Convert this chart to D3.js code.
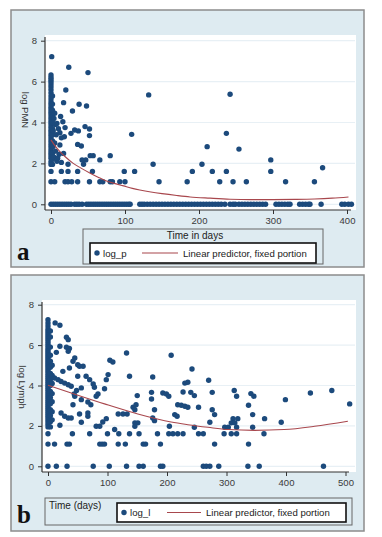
<!DOCTYPE html>
<html><head><meta charset="utf-8">
<script src="https://cdn.jsdelivr.net/npm/d3@7"></script>
<style>body{margin:0;background:#fff;}svg{display:block;}text{font-family:"Liberation Sans",Arial,sans-serif;}</style>
</head><body>
<svg id="c" width="382" height="537"></svg>
<script>
// ---------- Panel a: log PMN vs time (days) ----------
const daysA = [
 1,0,0,0,0,0,0,0,0,0,0,0,0,0,0,0,0,0,0,0,0,0,0,0,0,0,0,0,0,0,0,0,0,0,0,0,0,0,
 2,2,2,2,2,2,2,2,2,2,2,2,
 5,4,6,3,7,5,3,6,4,8,13,16,19,10,12,14,12,11,17,9,14,18,8,
 24,50,20,132,17,38,48,29,46,52,32,37,27,52,109,36,41,53,57,80,42,47,66,44,23,138,
 14,23,36,56,99,113,
 5,19,23,28,36,52,66,70,80,83,93,100,146,184,
 242,237,211,254,204,191,218,237,297,297,367,228,246,264,317,356,
 0,3,6,9,12,15,18,21,24,27,32,35,38,42,48,51,54,57,60,63,66,69,72,75,78,81,84,87,90,93,96,99,102,105,107,
 120,123,126,130,134,138,142,146,150,154,158,162,166,170,174,178,182,186,
 190,194,198,202,206,210,214,218,222,226,230,235,242,246,249,254,258,262,266,270,274,278,282,286,290,
 304,308,312,316,320,323,336,340,344,348,350,365,393,397,402,406
];
const logP = [
 7.22,6.32,6.2,6.1,6.0,5.88,5.75,5.6,5.45,5.3,5.15,5.0,4.88,4.75,4.62,4.5,4.38,4.25,4.12,4.0,3.88,3.75,3.62,3.5,3.38,3.25,3.12,3.0,2.88,2.75,2.62,2.5,2.38,2.25,2.08,1.95,1.61,1.1,
 5.3,4.9,4.6,4.3,4.0,3.7,3.4,3.1,2.8,2.5,2.2,1.95,
 4.45,4.2,3.9,3.6,3.4,3.0,2.85,2.6,2.3,2.1,4.29,4.04,3.75,3.7,3.5,3.25,2.9,2.45,2.49,2.25,2.05,3.3,3.95,
 6.7,6.44,5.59,5.35,4.97,4.89,4.81,4.56,3.8,3.68,3.63,3.59,3.47,3.36,3.42,2.93,2.85,2.38,2.38,2.38,2.17,2.17,2.17,1.96,1.96,1.96,
 1.61,1.61,1.61,1.61,1.61,1.61,
 1.1,1.1,1.1,1.1,1.1,1.1,1.1,1.1,1.1,1.1,1.1,1.1,1.1,1.1,
 5.38,3.47,2.82,2.7,1.96,1.61,1.61,1.61,2.17,1.61,1.79,1.1,1.1,1.1,1.1,1.1,
 0,0,0,0,0,0,0,0,0,0,0,0,0,0,0,0,0,0,0,0,0,0,0,0,0,0,0,0,0,0,0,0,0,0,0,
 0,0,0,0,0,0,0,0,0,0,0,0,0,0,0,0,0,0,
 0,0,0,0,0,0,0,0,0,0,0,0,0,0,0,0,0,0,0,0,0,0,0,0,0,
 0,0,0,0,0,0,0,0,0,0,0,0,0,0,0,0
];
const fitDaysA = [0,5,12,20,30,40,53,65,75,88,98,110,120,135,150,170,188,215,242,270,300,330,356,380,402];
const fitA     = [3.15,2.88,2.58,2.3,2.0,1.78,1.52,1.3,1.14,1.0,0.9,0.78,0.7,0.6,0.52,0.43,0.36,0.3,0.25,0.23,0.23,0.24,0.26,0.3,0.36];

// ---------- Panel b: log Lymph vs time (days) ----------
const daysB = [
 0,0,0,0,0,0,0,0,0,0,0,0,0,0,0,0,0,0,0,0,0,0,0,0,0,0,0,0,0,0,0,0,0,0,0,0,0,0,0,0,0,0,0,0,0,0,0,0,0,0,0,0,0,0,0,
 4,4,4,4,4,4,4,4,4,4,4,4,4,4,4,4,
 7,7,7,7,7,7,7,
 12,20,31,34,20,31,36,34,14,45,42,50,53,59,104,109,132,207,36,25,50,64,70,101,98,137,176,
 11,17,22,28,34,39,56,76,78,95,48,45,44,84,81,230,227,193,199,203,150,174,174,
 67,72,42,56,143,146,148,179,218,224,230,53,67,67,22,28,34,39,118,126,133,213,217,176,179,98,92,56,146,151,81,87,112,146,204,20,
 41,70,100,119,137,153,184,203,210,218,227,
 11,32,36,87,91,95,118,130,160,164,189,
 14,32,76,103,132,153,160,189,193,
 242,235,240,246,270,276,235,253,276,280,272,246,313,317,341,346,337,344,311,319,308,314,297,303,317,344,364,392,399,441,477,507,
 253,261,296,308,317,363,280,337,
 261,266,272,287,336,355,463
];
const logL = [
 7.26,7.1,6.95,6.8,6.7,6.6,6.5,6.4,6.3,6.2,6.1,6.0,5.9,5.8,5.7,5.6,5.5,5.4,5.3,5.2,5.1,5.0,4.9,4.8,4.7,4.6,4.5,4.4,4.3,4.2,4.1,4.0,3.9,3.8,3.7,3.6,3.5,3.4,3.3,3.2,3.1,3.0,2.9,2.8,2.7,2.6,2.5,2.4,2.3,2.2,2.08,1.95,1.61,1.1,0,
 6.7,6.4,5.9,5.5,5.2,4.9,4.6,4.3,4.0,3.7,3.4,3.1,2.8,2.5,2.2,1.95,
 5.0,4.5,4.1,3.6,3.2,2.7,2.3,
 7.1,6.98,6.39,6.27,5.94,5.89,5.83,5.69,5.64,5.36,5.2,5.03,4.95,4.95,5.25,5.16,5.61,5.5,4.87,4.7,4.46,4.46,4.29,4.54,4.29,4.46,4.42,
 4.37,4.29,4.2,4.12,4.04,3.96,3.88,4.08,3.91,3.84,3.75,3.47,3.58,3.58,3.47,4.12,3.68,3.63,3.58,3.47,3.5,3.66,3.33,
 3.18,3.05,3.05,3.3,2.92,2.8,3.05,2.8,3.05,3.02,2.97,2.59,2.64,2.48,2.64,2.48,2.39,2.39,2.59,2.59,2.59,2.56,2.48,2.39,2.26,2.36,2.19,2.18,2.15,2.15,1.98,1.98,1.82,1.98,1.98,2.03,
 1.61,1.61,1.61,1.61,1.61,1.61,1.61,1.61,1.61,1.61,1.61,
 1.1,1.1,1.1,1.1,1.1,1.1,1.1,1.1,1.1,1.1,1.1,
 0,0,0,0,0,0,0,0,0,
 4.82,4.16,3.66,3.5,4.26,3.66,2.92,2.92,2.8,2.56,2.18,1.93,3.75,3.47,3.6,3.47,3.02,2.56,2.36,2.36,2.15,2.15,1.93,1.93,1.93,1.93,2.36,2.18,3.3,3.63,3.75,3.09,
 1.61,1.61,1.61,1.61,1.61,1.61,1.1,1.1,
 0,0,0,0,0,0,0
];
const fitDaysB = [0,39,95,151,207,235,269,303,347,397,448,504];
const fitB     = [4.01,3.63,3.09,2.59,2.19,2.06,1.93,1.82,1.78,1.82,1.98,2.23];

const yTicks = [0,2,4,6,8];
const xTicksA = [0,100,200,300,400];
const xTicksB = [0,100,200,300,400,500];

const NAVY = "#1c4a7c", MAROON = "#a8474d", BG = "#deebf1", GRID = "#e8f0f5";
const svg = d3.select("#c");

function panel(o){
  const g = svg.append("g");
  g.append("rect").attr("x",o.frame[0]).attr("y",o.frame[1]).attr("width",o.frame[2]).attr("height",o.frame[3])
    .attr("fill",BG).attr("stroke","#8c8c8c").attr("stroke-width",1.5);
  g.append("rect").attr("x",o.plot[0]).attr("y",o.plot[1]).attr("width",o.plot[2]).attr("height",o.plot[3]).attr("fill","#fff");
  const x = d3.scaleLinear().domain(o.xdom).range(o.xr);
  const y = d3.scaleLinear().domain([0,8]).range(o.yr);
  g.selectAll(".gr").data(yTicks).join("line")
    .attr("x1",o.plot[0]+1).attr("x2",o.plot[0]+o.plot[2]-1).attr("y1",d=>y(d)).attr("y2",d=>y(d))
    .attr("stroke",GRID).attr("stroke-width",1.2);
  const yAx = d3.axisLeft(y).tickValues(yTicks).tickSize(4).tickPadding(4);
  const ya = g.append("g").attr("transform",`translate(${o.axX},0)`).call(yAx);
  ya.select(".domain").attr("d",`M0,${o.plot[1]+2}V${o.axY}`).attr("stroke","#333").attr("stroke-width",1.2);
  ya.selectAll(".tick line").attr("stroke","#333");
  ya.selectAll(".tick text").attr("font-size",9.5).attr("fill","#3a3a3a").style("font-family","Liberation Sans, Arial, sans-serif");
  const xAx = d3.axisBottom(x).tickValues(o.xticks).tickSize(4).tickPadding(3);
  const xa = g.append("g").attr("transform",`translate(0,${o.axY})`).call(xAx);
  xa.select(".domain").attr("d",`M${o.axX},0H${o.xEnd}`).attr("stroke","#333").attr("stroke-width",1.2);
  xa.selectAll(".tick line").attr("stroke","#333");
  xa.selectAll(".tick text").attr("font-size",9.5).attr("fill","#3a3a3a").style("font-family","Liberation Sans, Arial, sans-serif");
  const pts = d3.range(o.days.length).map(i=>({d:o.days[i],v:o.vals[i]}));
  g.append("g").selectAll("circle").data(pts).join("circle")
    .attr("cx",p=>x(p.d)).attr("cy",p=>y(p.v)).attr("r",2.7).attr("fill",NAVY);
  const fit = d3.range(o.fd.length).map(i=>({d:o.fd[i],v:o.fv[i]}));
  g.append("path").datum(fit).attr("fill","none").attr("stroke",MAROON).attr("stroke-width",1.1)
    .attr("d",d3.line().x(p=>x(p.d)).y(p=>y(p.v)).curve(d3.curveMonotoneX));
  g.append("text").attr("transform",`translate(${o.ytPos[0]},${o.ytPos[1]}) rotate(90)`)
    .attr("text-anchor","middle").attr("font-size",9.5).attr("fill","#333").text(o.ytitle);
  g.append("rect").attr("x",o.tbox[0]).attr("y",o.tbox[1]).attr("width",o.tbox[2]).attr("height",o.tbox[3])
    .attr("fill",BG).attr("stroke","#666").attr("stroke-width",1);
  g.append("text").attr("x",o.xtPos[0]).attr("y",o.xtPos[1]).attr("text-anchor",o.xtAnchor)
    .attr("font-size",10).attr("fill","#222").text(o.xtitle);
  g.append("rect").attr("x",o.lbox[0]).attr("y",o.lbox[1]).attr("width",o.lbox[2]).attr("height",o.lbox[3])
    .attr("fill","#fff").attr("stroke","#111").attr("stroke-width",1.6);
  const ly = o.lbox[1]+o.lbox[3]/2;
  g.append("circle").attr("cx",o.lbox[0]+7).attr("cy",ly).attr("r",2.7).attr("fill",NAVY);
  g.append("text").attr("x",o.lbox[0]+13).attr("y",ly+3.5).attr("font-size",9.6).attr("fill","#222").text(o.sname);
  g.append("line").attr("x1",o.lline[0]).attr("x2",o.lline[1]).attr("y1",ly).attr("y2",ly).attr("stroke",MAROON).attr("stroke-width",1.1);
  g.append("text").attr("x",o.lline[1]+5).attr("y",ly+3.5).attr("font-size",9.6).attr("fill","#222").text("Linear predictor, fixed portion");
  g.append("text").attr("x",17).attr("y",o.letterY).attr("font-size",25).attr("font-weight","bold")
    .style("font-family","Liberation Serif, DejaVu Serif, serif").attr("fill","#111").text(o.letter);
}

panel({frame:[11,10,353,257], plot:[45,35,311,175], xdom:[0,400], xr:[51,347], yr:[204.3,40.7],
  axX:45, axY:210, xEnd:351, xticks:xTicksA, days:daysA, vals:logP, fd:fitDaysA, fv:fitA,
  ytitle:"log PMN", ytPos:[22,110], tbox:[83,229,240,35], xtitle:"Time in days", xtPos:[195,239], xtAnchor:"middle",
  lbox:[90,243,226,20], sname:"log_p", lline:[142,178], letter:"a", letterY:260});

panel({frame:[11,275,353,256], plot:[42,300,314,172], xdom:[0,500], xr:[48,345.5], yr:[466.3,304.7],
  axX:42, axY:472, xEnd:349, xticks:xTicksB, days:daysB, vals:logL, fd:fitDaysB, fv:fitB,
  ytitle:"log Lymph", ytPos:[19,387], tbox:[45,498,307,27], xtitle:"Time (days)", xtPos:[49,509], xtAnchor:"start",
  lbox:[117,503,229,19], sname:"log_l", lline:[167,201], letter:"b", letterY:523});
</script>
</body></html>
